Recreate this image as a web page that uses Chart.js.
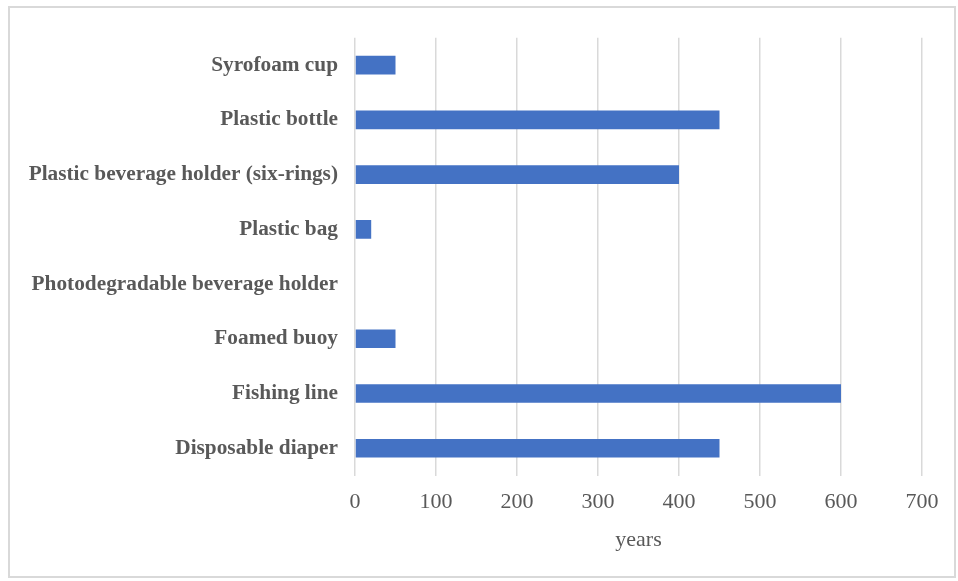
<!DOCTYPE html>
<html>
<head>
<meta charset="utf-8">
<script src="https://cdn.jsdelivr.net/npm/chart.js@4"></script>
<style>
  body { margin: 0; background: #fff; }
  #frame {
    position: absolute; left: 8px; top: 6px;
    width: 944px; height: 568px;
    border: 2px solid #d9d9d9;
  }
</style>
</head>
<body>
<div id="frame"><canvas id="chart" width="944" height="568"></canvas></div>
<script>
// items, top to bottom
const categories = [
  'Syrofoam cup',
  'Plastic bottle',
  'Plastic beverage holder (six-rings)',
  'Plastic bag',
  'Photodegradable beverage holder',
  'Foamed buoy',
  'Fishing line',
  'Disposable diaper'
];
const years = [50, 450, 400, 20, 0, 50, 600, 450];
const xTicks = [0, 100, 200, 300, 400, 500, 600, 700];

const serif = "'Liberation Serif', 'Times New Roman', serif";

const ctx = document.getElementById('chart').getContext('2d');
const chart = new Chart(ctx, {
  type: 'bar',
  data: {
    labels: categories,
    datasets: [{
      label: 'years',
      data: years,
      backgroundColor: '#4472C4',
      barPercentage: 0.34,
      categoryPercentage: 1
    }]
  },
  options: {
    indexAxis: 'y',
    responsive: false,
    animation: false,
    layout: { padding: { left: 0, top: 29, right: 32, bottom: 25 } },
    scales: {
      x: {
        min: xTicks[0],
        max: xTicks[xTicks.length - 1],
        afterBuildTicks: function (scale) {
          scale.ticks = xTicks.map(v => ({ value: v }));
        },
        grid: { color: '#d9d9d9', lineWidth: 1.5, drawTicks: false },
        border: { display: false },
        ticks: {
          padding: 13,
          color: '#595959',
          font: { family: serif, size: 22 }
        },
        title: {
          display: true,
          text: 'years',
          color: '#595959',
          padding: { top: 1, bottom: 0 },
          font: { family: serif, size: 22, lineHeight: 1.0 }
        }
      },
      y: {
        afterFit: function (scale) { scale.width = 345; },
        grid: { display: false, drawTicks: false },
        border: { display: false },
        ticks: {
          padding: 17,
          color: '#595959',
          font: { family: serif, size: 21.3, weight: 'bold' }
        }
      }
    },
    plugins: {
      legend: { display: false },
      tooltip: { enabled: false }
    }
  }
});
</script>
</body>
</html>
